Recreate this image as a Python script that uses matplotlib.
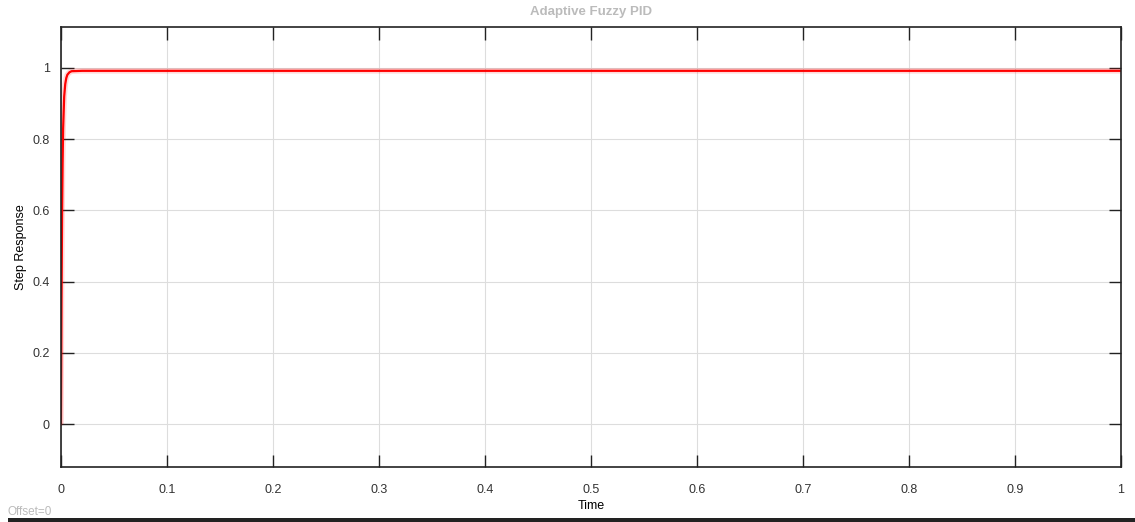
import matplotlib.pyplot as plt

# step response samples
t = [0, 0.0005, 0.001, 0.0015, 0.002, 0.003, 0.004, 0.005, 0.006, 0.008, 0.01, 0.02, 0.5, 1.0]
y = [0, 0.35, 0.58, 0.73, 0.83, 0.92, 0.955, 0.972, 0.981, 0.988, 0.991, 0.992, 0.992, 0.992]
xticks = [0, 0.1, 0.2, 0.3, 0.4, 0.5, 0.6, 0.7, 0.8, 0.9, 1]
yticks = [0, 0.2, 0.4, 0.6, 0.8, 1]

plt.rcParams['font.family'] = ['Liberation Sans', 'DejaVu Sans']
fig = plt.figure(figsize=(11.35, 5.22), dpi=100)
ax = fig.add_axes([61/1135, 1-467/522, 1060/1135, 440/522])

ax.plot(t, y, color='red', lw=4, alpha=0.15, solid_capstyle='butt')
ax.plot(t, y, color='red', lw=1.6)

ax.set_xlim(0, 1)
ax.set_ylim(-0.12, 1.115)
ax.set_xticks(xticks)
ax.set_xticklabels(['0', '0.1', '0.2', '0.3', '0.4', '0.5', '0.6', '0.7', '0.8', '0.9', '1'])
ax.set_yticks(yticks)
ax.set_yticklabels(['0', '0.2', '0.4', '0.6', '0.8', '1'])
ax.tick_params(direction='in', length=9, width=1.0, color='#222222', labelsize=9,
               labelcolor='#333333', top=True, right=True)
ax.tick_params(axis='x', pad=12)
ax.tick_params(axis='y', pad=8)
ax.grid(True, color='#dddddd', lw=0.8)
for s in ax.spines.values():
    s.set_color('#222222')
    s.set_linewidth(1.2)

ax.set_xlabel('Time', fontsize=9, labelpad=3)
ax.set_ylabel('Step Response', fontsize=9, labelpad=4)
ax.set_title('Adaptive Fuzzy PID', fontsize=9.5, color='#bbbbbb', fontweight='bold', pad=9)

fig.text(8/1135, 1-512/522, 'Offset=0', fontsize=8.5, color='#bbbbbb', va='center')
fig.patches.append(plt.Rectangle((8/1135, 0), 1, 4/522, transform=fig.transFigure,
                                 color='#222222', lw=0))

fig.savefig('out.png', dpi=100)
